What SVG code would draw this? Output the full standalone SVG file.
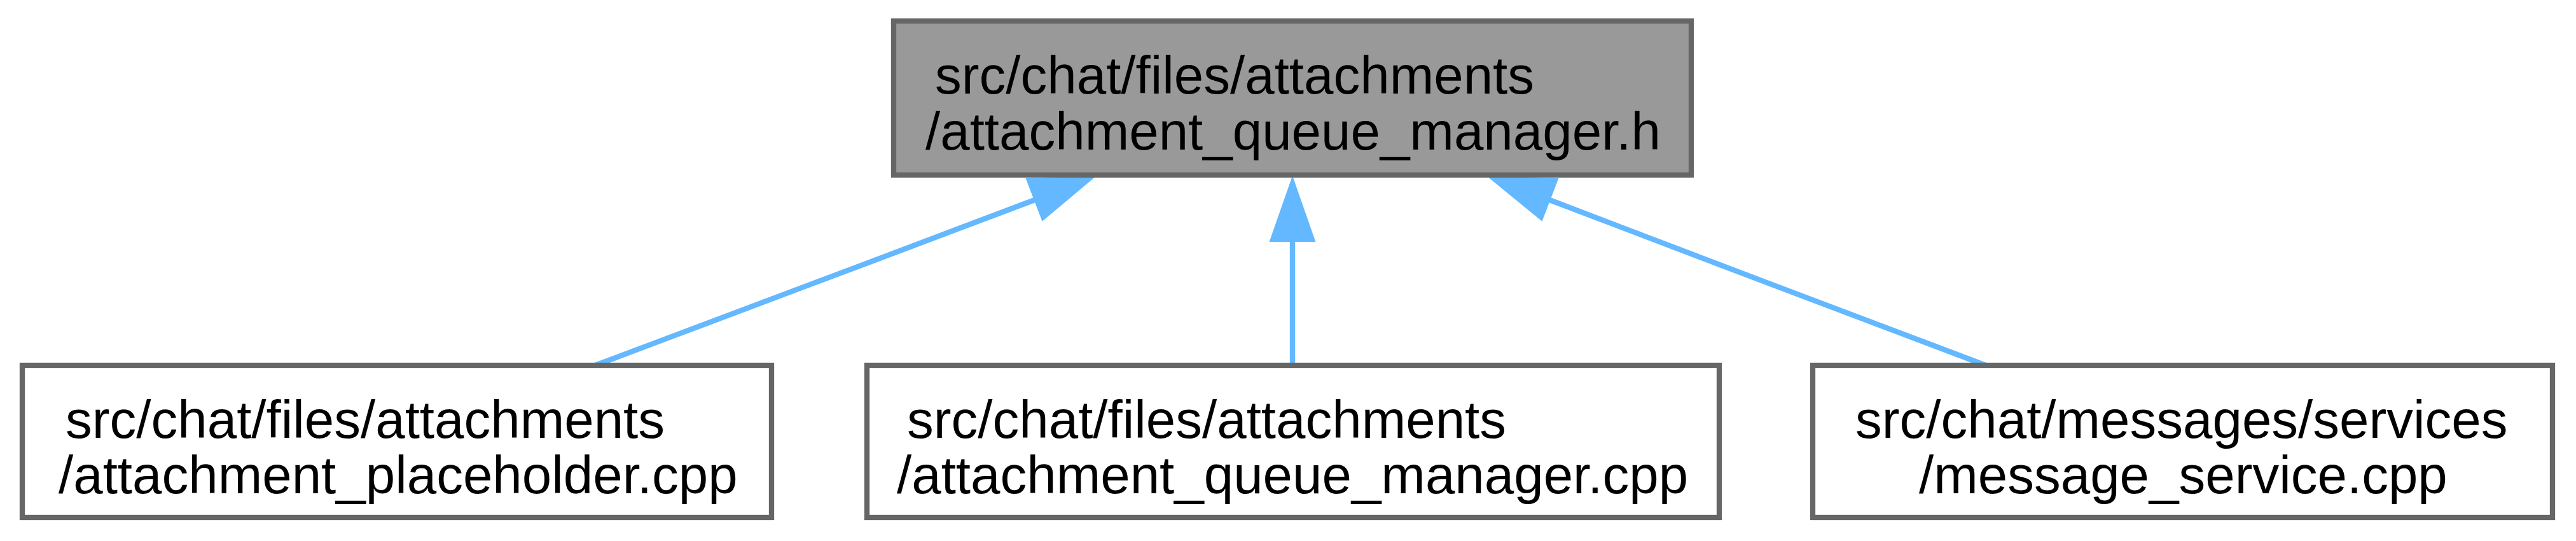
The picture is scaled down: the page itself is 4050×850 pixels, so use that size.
<svg xmlns="http://www.w3.org/2000/svg" width="4050" height="850" viewBox="0 0 4050 850">
<style>
  .box { stroke: #666666; stroke-width: 8.3; }
  .main { fill: #999999; }
  .leaf { fill: #ffffff; }
  .lbl { font-family: "Liberation Sans", Arial, Helvetica, sans-serif; font-size: 83.5px; fill: #000000; }
  .edge { fill: none; stroke: #63b8ff; stroke-width: 8.3; }
  .head { fill: #63b8ff; stroke: #63b8ff; stroke-width: 2; }
</style>
<rect x="0" y="0" width="4050" height="850" fill="#ffffff"/>
<g id="connectors">
  <g id="edge-placeholder">
    <path class="edge" d="M936,574 C1150,493 1400,400 1627,314"/>
    <polygon class="head" points="1719,279 1614,281 1639,346"/>
  </g>
  <g id="edge-queue-cpp">
    <path class="edge" d="M2032,574 L2032,379"/>
    <polygon class="head" points="2032,279 1997,379 2067,379"/>
  </g>
  <g id="edge-message-service">
    <path class="edge" d="M3122,574 C2908,493 2660,400 2436,314"/>
    <polygon class="head" points="2342,279 2449,281 2424,346"/>
  </g>
</g>
<g id="node-main">
  <rect class="box main" x="1405" y="33" width="1254" height="242"/>
  <text class="lbl" x="1470" y="147">src/chat/files/attachments</text>
  <text class="lbl" x="1455" y="235">/attachment_queue_manager.h</text>
</g>
<g id="node-placeholder">
  <rect class="box leaf" x="35" y="574" width="1178" height="239"/>
  <text class="lbl" x="103" y="688">src/chat/files/attachments</text>
  <text class="lbl" x="92" y="775">/attachment_placeholder.cpp</text>
</g>
<g id="node-queue-cpp">
  <rect class="box leaf" x="1363" y="574" width="1340" height="239"/>
  <text class="lbl" x="1426" y="688">src/chat/files/attachments</text>
  <text class="lbl" x="1410" y="775">/attachment_queue_manager.cpp</text>
</g>
<g id="node-message-service">
  <rect class="box leaf" x="2850" y="574" width="1163" height="239"/>
  <text class="lbl" x="2917" y="688">src/chat/messages/services</text>
  <text class="lbl" x="3017" y="775">/message_service.cpp</text>
</g>
</svg>
